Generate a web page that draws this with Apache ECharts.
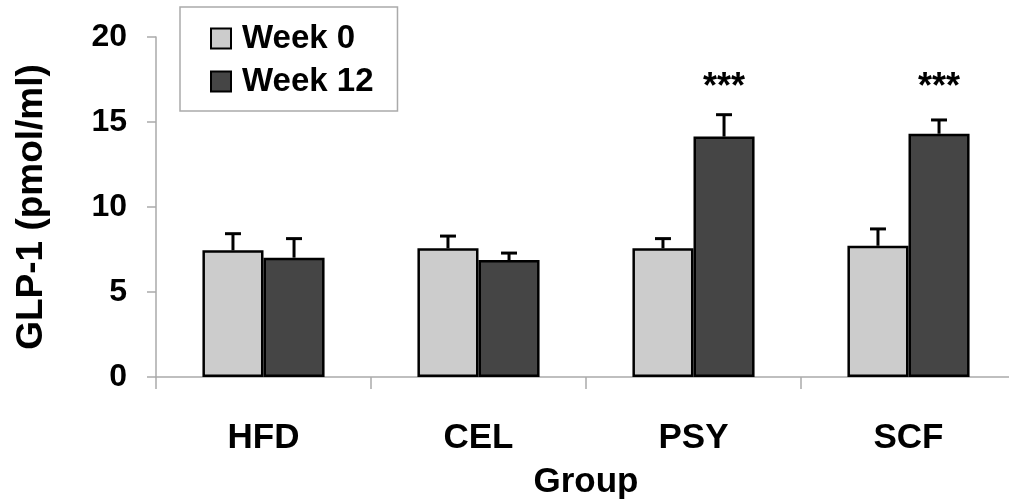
<!DOCTYPE html>
<html>
<head>
<meta charset="utf-8">
<script src="https://cdn.jsdelivr.net/npm/echarts@6/dist/echarts.min.js"></script>
<style>
  html, body { margin: 0; padding: 0; background: #fff; }
  #chart { width: 1009px; height: 503px; }
</style>
</head>
<body>
<div id="chart"></div>
<script>
// GLP-1 levels by diet group, week 0 vs week 12 (mean + SE)
const categories = ['HFD', 'CEL', 'PSY', 'SCF'];
const week0 = [7.45, 7.57, 7.57, 7.72];
const week12 = [7.02, 6.88, 14.14, 14.31];
const week0Err = [0.98, 0.72, 0.57, 0.99];
const week12Err = [1.12, 0.41, 1.29, 0.81];
const sigMarks = ['', '', '***', '***'];
const sigLevel = 17.0;          // height of significance markers
const yTicks = [0, 5, 10, 15, 20];

const FONT = "'Liberation Sans', Arial, sans-serif";
const BAR_FRAC = 0.284;         // bar width as fraction of category band

const chart = echarts.init(document.getElementById('chart'), null, { renderer: 'canvas' });

// upward-only error bars for one series (side -1 = left bar, +1 = right bar)
function errorSeries(values, errs, side) {
  return {
    type: 'custom',
    z: 5,
    silent: true,
    data: values.map((v, i) => [i, v, v + errs[i]]),
    renderItem(params, api) {
      const band = api.size([1, 0])[0];
      const dx = side * band * BAR_FRAC / 2;
      const base = api.coord([api.value(0), api.value(1)]);
      const top = api.coord([api.value(0), api.value(2)]);
      const x = base[0] + dx;
      const cap = 8;
      const style = { stroke: '#000', lineWidth: 3 };
      return {
        type: 'group',
        children: [
          { type: 'line', shape: { x1: x, y1: base[1], x2: x, y2: top[1] }, style },
          { type: 'line', shape: { x1: x - cap, y1: top[1], x2: x + cap, y2: top[1] }, style }
        ]
      };
    }
  };
}

chart.setOption({
  animation: false,
  backgroundColor: '#fff',
  textStyle: { fontFamily: FONT },
  grid: {
    left: 156, top: 37, height: 340, width: 860,
    containLabel: false,
    outerBoundsMode: 'none'
  },
  legend: {
    left: 180,
    top: 7,
    orient: 'vertical',
    padding: [15, 24, 13, 30],
    itemGap: 10,
    itemWidth: 20,
    itemHeight: 20,
    icon: 'rect',
    borderColor: '#aaaaaa',
    borderWidth: 1.5,
    textStyle: {
      fontFamily: FONT, fontSize: 33, fontWeight: 'bold', color: '#000',
      height: 30, lineHeight: 30, padding: [0, 0, 0, 6]
    },
    data: ['Week 0', 'Week 12']
  },
  xAxis: {
    type: 'category',
    data: categories,
    name: 'Group',
    nameLocation: 'middle',
    nameGap: 88,
    nameTextStyle: { fontFamily: FONT, fontSize: 35, fontWeight: 'bold', color: '#000' },
    axisLine: { lineStyle: { color: '#aaaaaa', width: 1.5 } },
    axisTick: { show: true, length: 12, lineStyle: { color: '#aaaaaa', width: 1.5 } },
    axisLabel: { margin: 44, fontFamily: FONT, fontSize: 35, fontWeight: 'bold', color: '#000' }
  },
  yAxis: {
    type: 'value',
    min: yTicks[0],
    max: yTicks[yTicks.length - 1],
    interval: yTicks[1] - yTicks[0],
    name: 'GLP-1 (pmol/ml)',
    nameLocation: 'middle',
    nameGap: 106,
    nameRotate: 90,
    nameTextStyle: { fontFamily: FONT, fontSize: 37, fontWeight: 'bold', color: '#000' },
    axisLine: { show: true, lineStyle: { color: '#aaaaaa', width: 1.5 } },
    axisTick: { show: true, length: 9, lineStyle: { color: '#aaaaaa', width: 1.5 } },
    splitLine: { show: false },
    axisLabel: { margin: 29, fontFamily: FONT, fontSize: 32, fontWeight: 'bold', color: '#000' }
  },
  series: [
    {
      name: 'Week 0',
      type: 'bar',
      data: week0,
      barWidth: (BAR_FRAC * 100) + '%',
      barGap: '0%',
      itemStyle: { color: '#cccccc', borderColor: '#000', borderWidth: 2.5 }
    },
    {
      name: 'Week 12',
      type: 'bar',
      data: week12,
      barWidth: (BAR_FRAC * 100) + '%',
      barGap: '0%',
      itemStyle: { color: '#454545', borderColor: '#000', borderWidth: 2.5 }
    },
    errorSeries(week0, week0Err, -1),
    errorSeries(week12, week12Err, 1),
    {
      // significance markers above the week 12 bars
      type: 'custom',
      z: 6,
      silent: true,
      data: sigMarks.map((s, i) => [i, sigLevel, s]),
      renderItem(params, api) {
        const band = api.size([1, 0])[0];
        const p = api.coord([api.value(0), api.value(1)]);
        return {
          type: 'text',
          x: p[0] + band * BAR_FRAC / 2,
          y: p[1],
          style: {
            text: sigMarks[params.dataIndex],
            fill: '#000',
            font: 'bold 36px ' + FONT,
            align: 'center',
            verticalAlign: 'middle'
          }
        };
      }
    }
  ]
});
</script>
</body>
</html>
